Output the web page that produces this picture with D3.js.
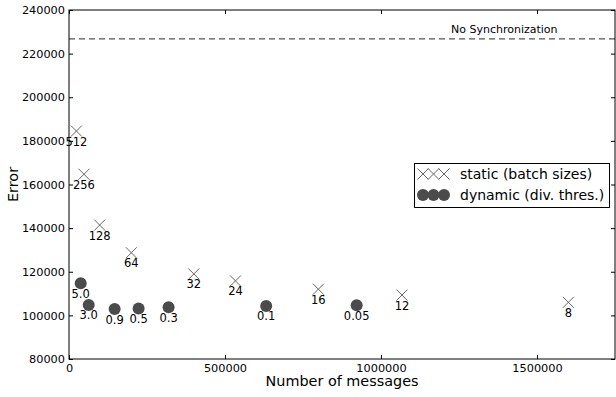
<!DOCTYPE html>
<html>
<head>
<meta charset="utf-8">
<script src="https://cdn.jsdelivr.net/npm/d3@7/dist/d3.min.js"></script>
<style>
  html, body { margin: 0; padding: 0; background: #fff; }
  svg { display: block; font-family: "DejaVu Sans", sans-serif; }
</style>
</head>
<body>
<svg id="chart" width="616" height="397"></svg>
<script>
// Static synchronization: batch sizes
const staticLabels = ["512", "256", "128", "64", "32", "24", "16", "12", "8"];
const staticMessages = [23700, 48000, 98300, 199700, 400100, 533600, 799300, 1067200, 1600600];
const staticError = [184500, 164700, 141400, 128700, 119000, 115800, 112000, 109300, 106000];

// Dynamic synchronization: divergence thresholds
const dynamicLabels = ["5.0", "3.0", "0.9", "0.5", "0.3", "0.1", "0.05"];
const dynamicMessages = [37500, 63100, 146300, 223100, 319200, 632000, 922000];
const dynamicError = [114700, 104800, 102900, 103200, 103700, 104300, 104600];

// Baseline without synchronization
const noSyncError = 226800;

const xTicks = [0, 500000, 1000000, 1500000];
const yTicks = [80000, 100000, 120000, 140000, 160000, 180000, 200000, 220000, 240000];

const margin = { left: 69, top: 10, right: 1, bottom: 38 };
const W = 616, H = 397;
const svg = d3.select("#chart");

const x = d3.scaleLinear().domain([0, 1750000]).range([margin.left, W - margin.right]);
const y = d3.scaleLinear().domain([80000, 240000]).range([H - margin.bottom, margin.top]);

const x0 = x.range()[0], x1 = x.range()[1], y0 = y.range()[0], y1 = y.range()[1];

// No-synchronization reference line
svg.append("line")
  .attr("x1", x0).attr("x2", x1)
  .attr("y1", y(noSyncError)).attr("y2", y(noSyncError))
  .attr("stroke", "#555").attr("stroke-width", 1.3)
  .attr("stroke-dasharray", "6,4");
svg.append("text")
  .attr("x", 451).attr("y", y(noSyncError) - 6)
  .attr("font-size", 11).attr("fill", "#000")
  .text("No Synchronization");

// Axes: inward ticks on all four sides
const tickLen = 4;
const fmt = d => String(d);
const gxB = svg.append("g").attr("transform", `translate(0,${y0})`)
  .call(d3.axisBottom(x).tickValues(xTicks).tickFormat(fmt).tickSizeInner(-tickLen).tickSizeOuter(0).tickPadding(5));
const gxT = svg.append("g").attr("transform", `translate(0,${y1})`)
  .call(d3.axisTop(x).tickValues(xTicks).tickFormat("").tickSizeInner(-tickLen).tickSizeOuter(0));
const gyL = svg.append("g").attr("transform", `translate(${x0},0)`)
  .call(d3.axisLeft(y).tickValues(yTicks).tickFormat(fmt).tickSizeInner(-tickLen).tickSizeOuter(0).tickPadding(4));
const gyR = svg.append("g").attr("transform", `translate(${x1},0)`)
  .call(d3.axisRight(y).tickValues(yTicks).tickFormat("").tickSizeInner(-tickLen).tickSizeOuter(0));

[gxB, gxT, gyL, gyR].forEach(g => {
  g.select(".domain").remove();
  g.selectAll("line").attr("stroke", "#000").attr("stroke-width", 1);
  g.selectAll("text").attr("font-family", "DejaVu Sans").attr("font-size", 11.3).attr("fill", "#000");
});

// Frame
svg.append("rect")
  .attr("x", x0).attr("y", y1).attr("width", x1 - x0).attr("height", y0 - y1)
  .attr("fill", "none").attr("stroke", "#000").attr("stroke-width", 1);

// Axis titles
svg.append("text")
  .attr("x", (x0 + x1) / 2).attr("y", 386)
  .attr("text-anchor", "middle").attr("font-size", 14.4)
  .text("Number of messages");
svg.append("text")
  .attr("transform", `translate(17.5,${(y0 + y1) / 2}) rotate(-90)`)
  .attr("text-anchor", "middle").attr("font-size", 14.4)
  .text("Error");

const crossColor = "#666";
const dotColor = "#4b4b4b";
const cs = 5.5; // cross half-size
const crossPath = (cx, cy) => `M${cx - cs},${cy - cs}L${cx + cs},${cy + cs}M${cx - cs},${cy + cs}L${cx + cs},${cy - cs}`;

// Static series markers
const staticData = staticLabels.map((l, i) => ({ l, m: staticMessages[i], e: staticError[i] }));
svg.append("g").selectAll("path").data(staticData).join("path")
  .attr("d", d => crossPath(x(d.m), y(d.e)))
  .attr("stroke", crossColor).attr("stroke-width", 1).attr("fill", "none");

// Dynamic series markers
const dynamicData = dynamicLabels.map((l, i) => ({ l, m: dynamicMessages[i], e: dynamicError[i] }));
svg.append("g").selectAll("circle").data(dynamicData).join("circle")
  .attr("cx", d => x(d.m)).attr("cy", d => y(d.e)).attr("r", 6)
  .attr("fill", dotColor);

// Point annotations
svg.append("g").selectAll("text").data(staticData.concat(dynamicData)).join("text")
  .attr("x", d => x(d.m)).attr("y", d => y(d.e) + 14.5)
  .attr("text-anchor", "middle").attr("font-size", 11.5).attr("fill", "#000")
  .text(d => d.l);

// Legend
const lg = svg.append("g");
lg.append("rect").attr("x", 414.5).attr("y", 163.5).attr("width", 195).attr("height", 44)
  .attr("fill", "#fff").attr("stroke", "#000").attr("stroke-width", 1);
const legendXs = [423, 433.5, 444];
lg.selectAll("path.lx").data(legendXs).join("path").attr("class", "lx")
  .attr("d", d => crossPath(d, 174))
  .attr("stroke", crossColor).attr("stroke-width", 1).attr("fill", "none");
lg.selectAll("circle").data(legendXs).join("circle")
  .attr("cx", d => d).attr("cy", 195).attr("r", 6).attr("fill", dotColor);
lg.append("text").attr("x", 460).attr("y", 179).attr("font-size", 14).text("static (batch sizes)");
lg.append("text").attr("x", 460).attr("y", 200).attr("font-size", 14).text("dynamic (div. thres.)");
</script>
</body>
</html>
